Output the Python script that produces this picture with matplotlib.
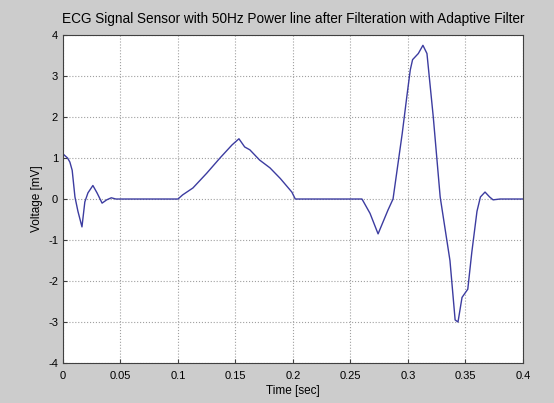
import numpy as np
import matplotlib.pyplot as plt

# ECG samples (time in s, voltage in mV)
time_s = [0.000, 0.002, 0.004, 0.006, 0.008, 0.0104, 0.013, 0.0165, 0.019, 0.0217,
          0.026, 0.0296, 0.034, 0.038, 0.042, 0.046, 0.060, 0.080, 0.100, 0.104,
          0.113, 0.125, 0.1365, 0.147, 0.153, 0.158, 0.1625, 0.171, 0.180, 0.189,
          0.199, 0.202, 0.220, 0.240, 0.260, 0.267, 0.274, 0.2826, 0.287, 0.291,
          0.295, 0.299, 0.302, 0.304, 0.309, 0.313, 0.3165, 0.322, 0.328, 0.3365,
          0.341, 0.3435, 0.347, 0.352, 0.3555, 0.360, 0.363, 0.367, 0.371, 0.374,
          0.380, 0.390, 0.400]
voltage_mv = [1.1, 1.05, 1.0, 0.9, 0.7, 0.05, -0.3, -0.68, -0.07, 0.15,
              0.33, 0.15, -0.1, -0.02, 0.03, 0.0, 0.0, 0.0, 0.0, 0.1,
              0.27, 0.63, 1.0, 1.32, 1.47, 1.27, 1.2, 0.95, 0.76, 0.5,
              0.17, 0.0, 0.0, 0.0, 0.0, -0.35, -0.85, -0.27, 0.0, 0.8,
              1.6, 2.5, 3.15, 3.4, 3.55, 3.75, 3.55, 2.0, 0.05, -1.5,
              -2.95, -3.0, -2.4, -2.2, -1.3, -0.3, 0.05, 0.17, 0.05, -0.02,
              0.0, 0.0, 0.0]

x_ticks = [0, 0.05, 0.1, 0.15, 0.2, 0.25, 0.3, 0.35, 0.4]
x_labels = ["0", "0.05", "0.1", "0.15", "0.2", "0.25", "0.3", "0.35", "0.4"]
y_ticks = [-4, -3, -2, -1, 0, 1, 2, 3, 4]

plt.rcParams["font.family"] = ["Liberation Sans", "DejaVu Sans"]
plt.rcParams["axes.unicode_minus"] = False

fig = plt.figure(figsize=(5.54, 4.03), dpi=100)
fig.patch.set_facecolor("#cccccc")
ax = fig.add_axes([0.1137, 0.0993, 0.8303, 0.8137])
ax.set_facecolor("white")

ax.plot(time_s, voltage_mv, color="#3c3ca0", linewidth=1.0)

ax.set_xlim(0, 0.4)
ax.set_ylim(-4, 4)
ax.set_xticks(x_ticks)
ax.set_xticklabels(x_labels)
ax.set_yticks(y_ticks)
ax.grid(True, linestyle=":", color="#a0a0a0", linewidth=0.8)
ax.tick_params(direction="in", labelsize=8, length=3, color="#404040")
ax.tick_params(axis="x", pad=6)
for s in ax.spines.values():
    s.set_color("#404040")

ax.set_title("ECG Signal Sensor with 50Hz Power line after Filteration with Adaptive Filter",
             fontsize=9.8, pad=9)
ax.set_xlabel("Time [sec]", fontsize=8.5, labelpad=3)
ax.set_ylabel("Voltage [mV]", fontsize=8.5, labelpad=4)

fig.savefig("out.png", dpi=100, facecolor=fig.get_facecolor())
